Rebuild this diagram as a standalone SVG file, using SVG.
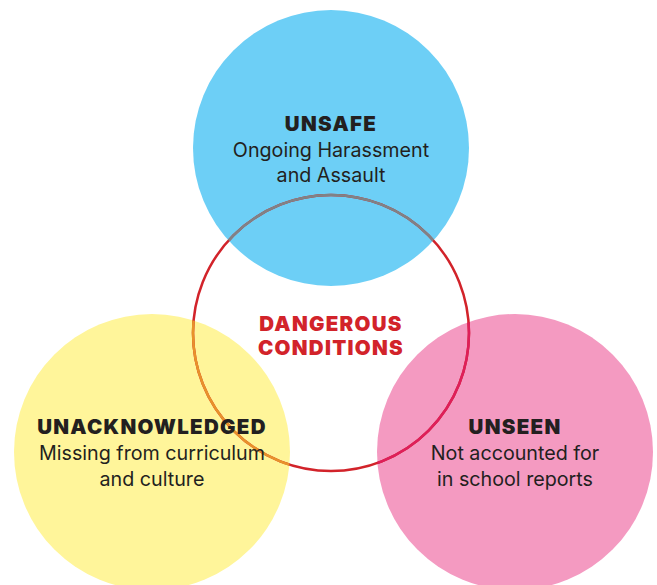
<svg xmlns="http://www.w3.org/2000/svg" width="657" height="585" viewBox="0 0 657 585">
<style>
.t{font-family:Inter,"Noto Sans","Liberation Sans",sans-serif;font-weight:900;font-size:20.5px;fill:#231f20;text-anchor:middle;letter-spacing:1.3px}
.b{font-family:Inter,"Noto Sans","Liberation Sans",sans-serif;font-weight:400;font-size:19.7px;fill:#231f20;text-anchor:middle}
.r{font-family:Inter,"Noto Sans","Liberation Sans",sans-serif;font-weight:900;font-size:20.5px;fill:#d2232a;text-anchor:middle;letter-spacing:1.3px}
.ring{fill:none;stroke-width:2.5}
</style>
<defs>
<clipPath id="cb"><circle cx="331" cy="148" r="138"/></clipPath>
<clipPath id="cy"><circle cx="152" cy="452" r="138"/></clipPath>
<clipPath id="cp"><circle cx="515" cy="452" r="138"/></clipPath>
</defs>
<rect width="657" height="585" fill="#ffffff"/>
<g id="unsafe">
<circle cx="331" cy="148" r="138" fill="#6dcff6"/>
</g>
<g id="unacknowledged">
<circle cx="152" cy="452" r="138" fill="#fff59a"/>
</g>
<g id="unseen">
<circle cx="515" cy="452" r="138" fill="#f49ac1"/>
</g>
<g id="dangerous">
<circle class="ring" cx="331" cy="333" r="138" stroke="#d2232a"/>
<circle class="ring" cx="331" cy="333" r="138" stroke="#808285" clip-path="url(#cb)"/>
<circle class="ring" cx="331" cy="333" r="138" stroke="#e8922a" clip-path="url(#cy)"/>
<circle class="ring" cx="331" cy="333" r="138" stroke="#de1f5a" clip-path="url(#cp)"/>
</g>
<g id="labels">
<text class="t" x="331" y="131">UNSAFE</text>
<text class="b" x="331" y="157">Ongoing Harassment</text>
<text class="b" x="331" y="182">and Assault</text>
<text class="r" x="331" y="331">DANGEROUS</text>
<text class="r" x="331" y="355">CONDITIONS</text>
<text class="t" x="152" y="434">UNACKNOWLEDGED</text>
<text class="b" x="152" y="460">Missing from curriculum</text>
<text class="b" x="152" y="486">and culture</text>
<text class="t" x="515" y="434">UNSEEN</text>
<text class="b" x="515" y="460">Not accounted for</text>
<text class="b" x="515" y="486">in school reports</text>
</g>
</svg>
